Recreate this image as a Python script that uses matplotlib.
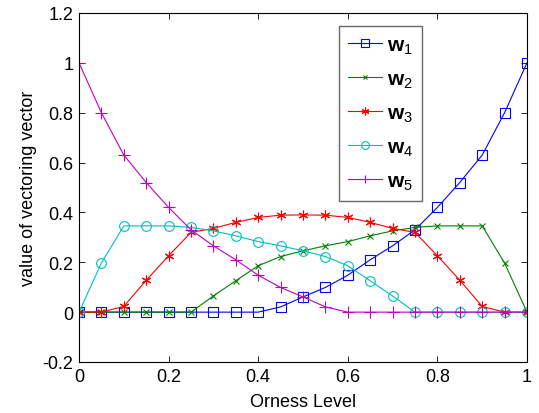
import matplotlib
matplotlib.use("Agg")
import matplotlib.pyplot as plt

plt.rcParams['font.family'] = ['Liberation Sans', 'DejaVu Sans']
plt.rcParams['mathtext.fontset'] = 'custom'
plt.rcParams['mathtext.rm'] = 'Liberation Sans'
plt.rcParams['mathtext.it'] = 'Liberation Sans'
plt.rcParams['mathtext.bf'] = 'Liberation Sans:bold'

orness = [0.0, 0.05, 0.1, 0.15, 0.2, 0.25, 0.3, 0.35, 0.4, 0.45, 0.5,
          0.55, 0.6, 0.65, 0.7, 0.75, 0.8, 0.85, 0.9, 0.95, 1.0]
w1 = [0, 0, 0, 0, 0, 0, 0, 0, 0, 0.021, 0.061,
      0.099, 0.148, 0.21, 0.266, 0.33, 0.42, 0.52, 0.63, 0.80, 1.0]
w2 = [0, 0, 0, 0, 0, 0, 0.065, 0.126, 0.186, 0.223, 0.246,
      0.266, 0.283, 0.306, 0.326, 0.34, 0.346, 0.346, 0.346, 0.197, 0]
w3 = [0, 0, 0.023, 0.128, 0.226, 0.32, 0.336, 0.36, 0.38, 0.389, 0.39,
      0.389, 0.38, 0.36, 0.336, 0.32, 0.226, 0.128, 0.023, 0, 0]
w4 = [0, 0.197, 0.346, 0.346, 0.346, 0.34, 0.326, 0.306, 0.283, 0.266, 0.246,
      0.223, 0.186, 0.126, 0.065, 0, 0, 0, 0, 0, 0]
w5 = [1.0, 0.80, 0.63, 0.52, 0.42, 0.33, 0.266, 0.21, 0.148, 0.099, 0.061,
      0.021, 0, 0, 0, 0, 0, 0, 0, 0, 0]

series = [w1, w2, w3, w4, w5]
labels = ['$\\mathbf{w}_\\mathregular{1}$', '$\\mathbf{w}_\\mathregular{2}$',
          '$\\mathbf{w}_\\mathregular{3}$', '$\\mathbf{w}_\\mathregular{4}$',
          '$\\mathbf{w}_\\mathregular{5}$']
colors = ['#0000ff', '#008000', '#ff0000', '#00bfbf', '#bf00bf']
markers = ['s', 'x', (6, 2, 0), 'o', '+']
msizes = [7, 4, 7, 7, 8]

fig = plt.figure(figsize=(5.39, 4.14), dpi=100)
ax = fig.add_axes([0.1466, 0.1232, 0.8311, 0.843])

for ys, lab, c, m, ms in zip(series, labels, colors, markers, msizes):
    ax.plot(orness, ys, color=c, marker=m, markersize=ms, markerfacecolor='none',
            markeredgecolor=c, markeredgewidth=0.8, linewidth=0.8, label=lab)

ax.set_xlim(0, 1)
ax.set_ylim(-0.2, 1.2)
ax.set_xticks([0, 0.2, 0.4, 0.6, 0.8, 1])
ax.set_xticklabels(['0', '0.2', '0.4', '0.6', '0.8', '1'])
ax.set_yticks([-0.2, 0, 0.2, 0.4, 0.6, 0.8, 1.0, 1.2])
ax.set_yticklabels(['-0.2', '0', '0.2', '0.4', '0.6', '0.8', '1', '1.2'])
ax.tick_params(direction='in', top=True, right=True, labelsize=13, length=4,
               width=0.6, pad=4)
for s in ax.spines.values():
    s.set_linewidth(0.8)
ax.set_xlabel('Orness Level', fontsize=13, labelpad=6)
ax.set_ylabel('value of vectoring vector', fontsize=13, labelpad=4)

leg = ax.legend(loc='upper left', bbox_to_anchor=(0.580, 0.963), fontsize=15,
                frameon=True, fancybox=False, edgecolor='#444444',
                handlelength=1.6, labelspacing=0.66, borderpad=0.45,
                handletextpad=0.25, markerscale=0.8, borderaxespad=0)
leg.get_frame().set_linewidth(1.0)

fig.savefig('out.png', dpi=100)
